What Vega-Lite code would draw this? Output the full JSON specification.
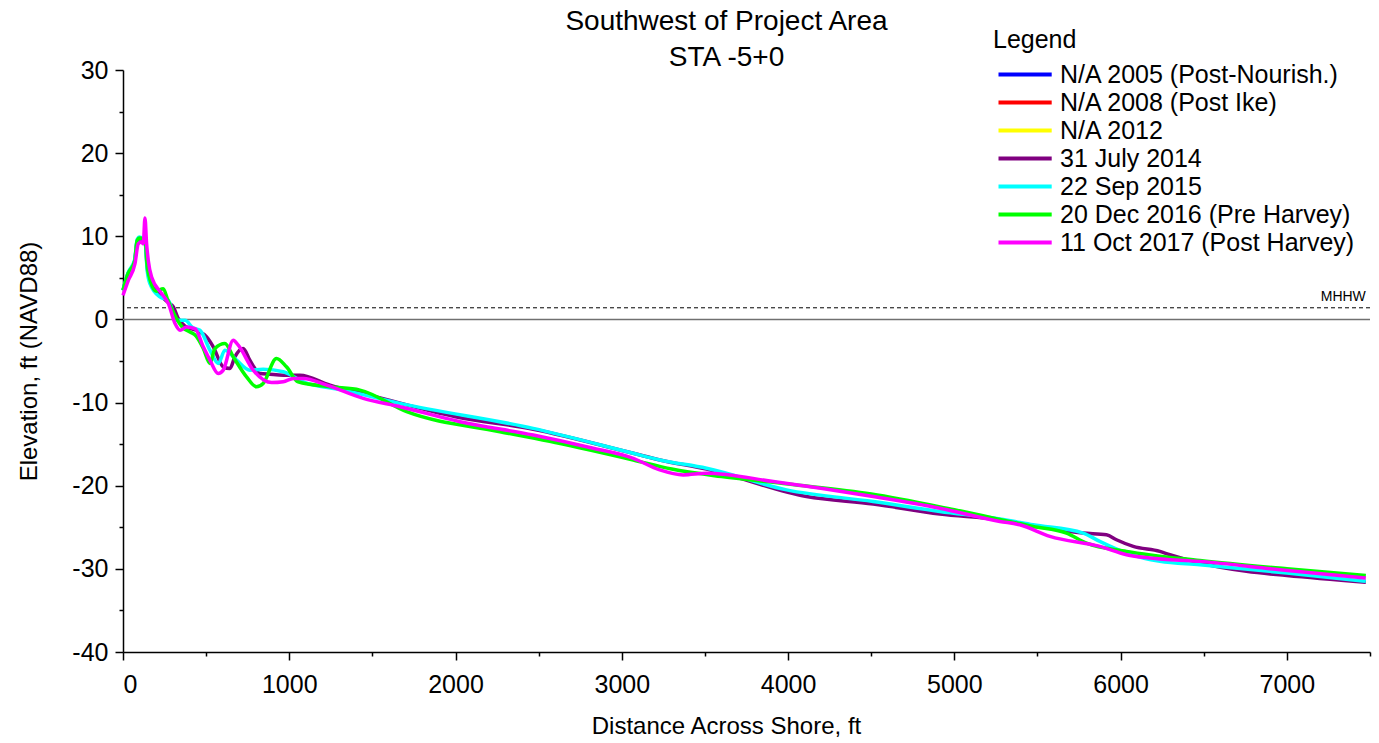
{
  "$schema": "https://vega.github.io/schema/vega-lite/v6.json",
  "width": 1247,
  "height": 582,
  "autosize": {"type": "none"},
  "padding": {"left": 123, "top": 70, "right": 9, "bottom": 91},
  "background": "white",
  "config": {
    "font": "Liberation Sans",
    "view": {"stroke": null},
    "axis": {"grid": false, "domainColor": "black", "tickColor": "black", "labelColor": "black", "titleColor": "black", "labelFontSize": 25, "titleFontSize": 24, "titleFontWeight": "normal", "domainWidth": 1.5, "tickWidth": 1.5, "labelOverlap": false}
  },
  "title": {"text": ["Southwest of Project Area", "STA -5+0"], "fontSize": 28, "fontWeight": "normal", "color": "black", "anchor": "middle", "frame": "group", "dx": -20, "offset": -44, "lineHeight": 36},
  "datasets": {
    "profiles": [
      {"s":"31 July 2014","x":0,"y":3.5},{"s":"31 July 2014","x":30,"y":5.5},{"s":"31 July 2014","x":70,"y":7.0},{"s":"31 July 2014","x":85,"y":9.4},{"s":"31 July 2014","x":100,"y":9.7},{"s":"31 July 2014","x":120,"y":9.5},{"s":"31 July 2014","x":135,"y":9.0},{"s":"31 July 2014","x":145,"y":6.3},{"s":"31 July 2014","x":165,"y":4.5},{"s":"31 July 2014","x":222,"y":3.0},{"s":"31 July 2014","x":273,"y":2.0},{"s":"31 July 2014","x":303,"y":1.5},{"s":"31 July 2014","x":330,"y":0.2},{"s":"31 July 2014","x":373,"y":-0.8},{"s":"31 July 2014","x":440,"y":-1.3},{"s":"31 July 2014","x":503,"y":-2.1},{"s":"31 July 2014","x":543,"y":-3.3},{"s":"31 July 2014","x":603,"y":-5.7},{"s":"31 July 2014","x":643,"y":-5.9},{"s":"31 July 2014","x":673,"y":-4.5},{"s":"31 July 2014","x":723,"y":-3.5},{"s":"31 July 2014","x":763,"y":-4.9},{"s":"31 July 2014","x":823,"y":-6.5},{"s":"31 July 2014","x":884,"y":-6.6},{"s":"31 July 2014","x":964,"y":-6.7},{"s":"31 July 2014","x":1064,"y":-6.7},{"s":"31 July 2014","x":1245,"y":-7.9},{"s":"31 July 2014","x":1485,"y":-9.1},{"s":"31 July 2014","x":2000,"y":-11.7},{"s":"31 July 2014","x":2467,"y":-13.2},{"s":"31 July 2014","x":3069,"y":-16.1},{"s":"31 July 2014","x":3229,"y":-16.9},{"s":"31 July 2014","x":3510,"y":-18.0},{"s":"31 July 2014","x":4111,"y":-21.3},{"s":"31 July 2014","x":4512,"y":-22.2},{"s":"31 July 2014","x":4913,"y":-23.4},{"s":"31 July 2014","x":5274,"y":-24.1},{"s":"31 July 2014","x":5474,"y":-24.8},{"s":"31 July 2014","x":5775,"y":-25.7},{"s":"31 July 2014","x":5915,"y":-25.9},{"s":"31 July 2014","x":5975,"y":-26.5},{"s":"31 July 2014","x":6076,"y":-27.3},{"s":"31 July 2014","x":6236,"y":-27.9},{"s":"31 July 2014","x":6296,"y":-28.3},{"s":"31 July 2014","x":6477,"y":-29.3},{"s":"31 July 2014","x":6757,"y":-30.3},{"s":"31 July 2014","x":7000,"y":-30.8},{"s":"31 July 2014","x":7475,"y":-31.6},

      {"s":"22 Sep 2015","x":0,"y":3.5},{"s":"22 Sep 2015","x":30,"y":5.6},{"s":"22 Sep 2015","x":70,"y":7.2},{"s":"22 Sep 2015","x":85,"y":9.6},{"s":"22 Sep 2015","x":100,"y":9.9},{"s":"22 Sep 2015","x":120,"y":9.6},{"s":"22 Sep 2015","x":135,"y":9.0},{"s":"22 Sep 2015","x":145,"y":6.0},{"s":"22 Sep 2015","x":162,"y":4.3},{"s":"22 Sep 2015","x":222,"y":2.7},{"s":"22 Sep 2015","x":273,"y":2.3},{"s":"22 Sep 2015","x":322,"y":-0.1},{"s":"22 Sep 2015","x":373,"y":-0.1},{"s":"22 Sep 2015","x":420,"y":-1.0},{"s":"22 Sep 2015","x":463,"y":-1.3},{"s":"22 Sep 2015","x":523,"y":-3.7},{"s":"22 Sep 2015","x":573,"y":-5.3},{"s":"22 Sep 2015","x":613,"y":-3.7},{"s":"22 Sep 2015","x":683,"y":-4.9},{"s":"22 Sep 2015","x":763,"y":-6.1},{"s":"22 Sep 2015","x":843,"y":-6.0},{"s":"22 Sep 2015","x":964,"y":-6.3},{"s":"22 Sep 2015","x":1084,"y":-7.5},{"s":"22 Sep 2015","x":1325,"y":-8.5},{"s":"22 Sep 2015","x":1666,"y":-10.1},{"s":"22 Sep 2015","x":2467,"y":-13.1},{"s":"22 Sep 2015","x":3069,"y":-16.1},{"s":"22 Sep 2015","x":3229,"y":-16.9},{"s":"22 Sep 2015","x":3510,"y":-17.9},{"s":"22 Sep 2015","x":3991,"y":-20.5},{"s":"22 Sep 2015","x":4512,"y":-21.9},{"s":"22 Sep 2015","x":4913,"y":-23.1},{"s":"22 Sep 2015","x":5274,"y":-24.0},{"s":"22 Sep 2015","x":5474,"y":-24.7},{"s":"22 Sep 2015","x":5775,"y":-25.7},{"s":"22 Sep 2015","x":5875,"y":-26.7},{"s":"22 Sep 2015","x":6036,"y":-28.1},{"s":"22 Sep 2015","x":6236,"y":-29.1},{"s":"22 Sep 2015","x":6477,"y":-29.5},{"s":"22 Sep 2015","x":7000,"y":-30.5},{"s":"22 Sep 2015","x":7475,"y":-31.5},

      {"s":"20 Dec 2016 (Pre Harvey)","x":0,"y":3.5},{"s":"20 Dec 2016 (Pre Harvey)","x":30,"y":5.5},{"s":"20 Dec 2016 (Pre Harvey)","x":70,"y":7.0},{"s":"20 Dec 2016 (Pre Harvey)","x":85,"y":9.5},{"s":"20 Dec 2016 (Pre Harvey)","x":100,"y":9.8},{"s":"20 Dec 2016 (Pre Harvey)","x":120,"y":9.7},{"s":"20 Dec 2016 (Pre Harvey)","x":135,"y":9.3},{"s":"20 Dec 2016 (Pre Harvey)","x":145,"y":6.5},{"s":"20 Dec 2016 (Pre Harvey)","x":165,"y":4.6},{"s":"20 Dec 2016 (Pre Harvey)","x":200,"y":3.4},{"s":"20 Dec 2016 (Pre Harvey)","x":242,"y":3.7},{"s":"20 Dec 2016 (Pre Harvey)","x":270,"y":2.3},{"s":"20 Dec 2016 (Pre Harvey)","x":322,"y":0.1},{"s":"20 Dec 2016 (Pre Harvey)","x":360,"y":-1.0},{"s":"20 Dec 2016 (Pre Harvey)","x":403,"y":-1.5},{"s":"20 Dec 2016 (Pre Harvey)","x":440,"y":-2.0},{"s":"20 Dec 2016 (Pre Harvey)","x":483,"y":-3.5},{"s":"20 Dec 2016 (Pre Harvey)","x":523,"y":-5.3},{"s":"20 Dec 2016 (Pre Harvey)","x":553,"y":-3.5},{"s":"20 Dec 2016 (Pre Harvey)","x":613,"y":-2.9},{"s":"20 Dec 2016 (Pre Harvey)","x":663,"y":-4.5},{"s":"20 Dec 2016 (Pre Harvey)","x":743,"y":-6.9},{"s":"20 Dec 2016 (Pre Harvey)","x":803,"y":-8.1},{"s":"20 Dec 2016 (Pre Harvey)","x":843,"y":-7.7},{"s":"20 Dec 2016 (Pre Harvey)","x":923,"y":-4.7},{"s":"20 Dec 2016 (Pre Harvey)","x":983,"y":-5.7},{"s":"20 Dec 2016 (Pre Harvey)","x":1053,"y":-7.5},{"s":"20 Dec 2016 (Pre Harvey)","x":1245,"y":-8.1},{"s":"20 Dec 2016 (Pre Harvey)","x":1425,"y":-8.5},{"s":"20 Dec 2016 (Pre Harvey)","x":1706,"y":-11.1},{"s":"20 Dec 2016 (Pre Harvey)","x":2267,"y":-13.5},{"s":"20 Dec 2016 (Pre Harvey)","x":2600,"y":-14.8},{"s":"20 Dec 2016 (Pre Harvey)","x":3069,"y":-16.9},{"s":"20 Dec 2016 (Pre Harvey)","x":3300,"y":-18.0},{"s":"20 Dec 2016 (Pre Harvey)","x":3600,"y":-18.9},{"s":"20 Dec 2016 (Pre Harvey)","x":4000,"y":-19.8},{"s":"20 Dec 2016 (Pre Harvey)","x":4500,"y":-21.0},{"s":"20 Dec 2016 (Pre Harvey)","x":5000,"y":-22.9},{"s":"20 Dec 2016 (Pre Harvey)","x":5474,"y":-24.9},{"s":"20 Dec 2016 (Pre Harvey)","x":5675,"y":-25.7},{"s":"20 Dec 2016 (Pre Harvey)","x":5795,"y":-26.9},{"s":"20 Dec 2016 (Pre Harvey)","x":6036,"y":-27.9},{"s":"20 Dec 2016 (Pre Harvey)","x":6477,"y":-29.0},{"s":"20 Dec 2016 (Pre Harvey)","x":7000,"y":-30.0},{"s":"20 Dec 2016 (Pre Harvey)","x":7475,"y":-30.8},

      {"s":"11 Oct 2017 (Post Harvey)","x":0,"y":2.9},{"s":"11 Oct 2017 (Post Harvey)","x":32,"y":4.7},{"s":"11 Oct 2017 (Post Harvey)","x":72,"y":6.7},{"s":"11 Oct 2017 (Post Harvey)","x":92,"y":9.1},{"s":"11 Oct 2017 (Post Harvey)","x":112,"y":9.3},{"s":"11 Oct 2017 (Post Harvey)","x":122,"y":9.1},{"s":"11 Oct 2017 (Post Harvey)","x":132,"y":12.2},{"s":"11 Oct 2017 (Post Harvey)","x":142,"y":9.1},{"s":"11 Oct 2017 (Post Harvey)","x":152,"y":7.1},{"s":"11 Oct 2017 (Post Harvey)","x":172,"y":5.1},{"s":"11 Oct 2017 (Post Harvey)","x":233,"y":3.1},{"s":"11 Oct 2017 (Post Harvey)","x":273,"y":1.9},{"s":"11 Oct 2017 (Post Harvey)","x":313,"y":-0.5},{"s":"11 Oct 2017 (Post Harvey)","x":343,"y":-1.3},{"s":"11 Oct 2017 (Post Harvey)","x":383,"y":-0.9},{"s":"11 Oct 2017 (Post Harvey)","x":433,"y":-1.1},{"s":"11 Oct 2017 (Post Harvey)","x":483,"y":-3.3},{"s":"11 Oct 2017 (Post Harvey)","x":523,"y":-4.9},{"s":"11 Oct 2017 (Post Harvey)","x":573,"y":-6.5},{"s":"11 Oct 2017 (Post Harvey)","x":603,"y":-6.1},{"s":"11 Oct 2017 (Post Harvey)","x":663,"y":-2.5},{"s":"11 Oct 2017 (Post Harvey)","x":693,"y":-3.1},{"s":"11 Oct 2017 (Post Harvey)","x":783,"y":-6.1},{"s":"11 Oct 2017 (Post Harvey)","x":894,"y":-7.6},{"s":"11 Oct 2017 (Post Harvey)","x":964,"y":-7.5},{"s":"11 Oct 2017 (Post Harvey)","x":1024,"y":-7.1},{"s":"11 Oct 2017 (Post Harvey)","x":1084,"y":-7.1},{"s":"11 Oct 2017 (Post Harvey)","x":1225,"y":-7.9},{"s":"11 Oct 2017 (Post Harvey)","x":1445,"y":-9.5},{"s":"11 Oct 2017 (Post Harvey)","x":1666,"y":-10.5},{"s":"11 Oct 2017 (Post Harvey)","x":2027,"y":-12.3},{"s":"11 Oct 2017 (Post Harvey)","x":2467,"y":-13.9},{"s":"11 Oct 2017 (Post Harvey)","x":2808,"y":-15.4},{"s":"11 Oct 2017 (Post Harvey)","x":3069,"y":-16.7},{"s":"11 Oct 2017 (Post Harvey)","x":3228,"y":-18.1},{"s":"11 Oct 2017 (Post Harvey)","x":3369,"y":-18.7},{"s":"11 Oct 2017 (Post Harvey)","x":3510,"y":-18.5},{"s":"11 Oct 2017 (Post Harvey)","x":3911,"y":-19.5},{"s":"11 Oct 2017 (Post Harvey)","x":4512,"y":-21.3},{"s":"11 Oct 2017 (Post Harvey)","x":4913,"y":-22.7},{"s":"11 Oct 2017 (Post Harvey)","x":5274,"y":-24.3},{"s":"11 Oct 2017 (Post Harvey)","x":5394,"y":-24.7},{"s":"11 Oct 2017 (Post Harvey)","x":5575,"y":-26.1},{"s":"11 Oct 2017 (Post Harvey)","x":5875,"y":-27.3},{"s":"11 Oct 2017 (Post Harvey)","x":6036,"y":-28.3},{"s":"11 Oct 2017 (Post Harvey)","x":6176,"y":-28.7},{"s":"11 Oct 2017 (Post Harvey)","x":6477,"y":-29.1},{"s":"11 Oct 2017 (Post Harvey)","x":6958,"y":-30.1},{"s":"11 Oct 2017 (Post Harvey)","x":7475,"y":-31.1}
    ],
    "refs": [{"y": 0, "kind": "zero"}],
    "mhhw": [{"y": 1.4, "x": 7475, "label": "MHHW"}]
  },
  "layer": [
    {
      "data": {"name": "refs"},
      "mark": {"type": "rule", "color": "#707070", "strokeWidth": 1.5},
      "encoding": {"y": {"field": "y", "type": "quantitative"}}
    },
    {
      "data": {"name": "mhhw"},
      "mark": {"type": "rule", "color": "black", "strokeWidth": 1, "strokeDash": [4, 3]},
      "encoding": {"y": {"field": "y", "type": "quantitative"}}
    },
    {
      "data": {"name": "mhhw"},
      "mark": {"type": "text", "align": "right", "baseline": "bottom", "dy": -4, "fontSize": 14, "color": "black"},
      "encoding": {
        "x": {"field": "x", "type": "quantitative"},
        "y": {"field": "y", "type": "quantitative"},
        "text": {"field": "label"}
      }
    },
    {
      "data": {"name": "profiles"},
      "mark": {"type": "line", "strokeWidth": 3.5, "interpolate": "monotone"},
      "encoding": {
        "x": {"field": "x", "type": "quantitative", "title": "Distance Across Shore, ft",
          "scale": {"domain": [0, 7500], "nice": false},
          "axis": {"values": [0,500,1000,1500,2000,2500,3000,3500,4000,4500,5000,5500,6000,6500,7000,7500],
            "labelExpr": "datum.value % 1000 === 0 ? '' + datum.value : ''",
            "tickSize": {"expr": "datum.value % 1000 === 0 ? 8 : 4"},
            "labelPadding": 12, "titlePadding": 17, "titleX": 603, "titleAlign": "center"}},
        "y": {"field": "y", "type": "quantitative", "title": "Elevation, ft (NAVD88)",
          "scale": {"domain": [-40, 30], "nice": false},
          "axis": {"values": [-40,-35,-30,-25,-20,-15,-10,-5,0,5,10,15,20,25,30],
            "labelExpr": "datum.value % 10 === 0 ? '' + datum.value : ''",
            "tickSize": {"expr": "datum.value % 10 === 0 ? 8 : 4"},
            "labelPadding": 7, "titlePadding": 30}},
        "color": {"field": "s", "type": "nominal",
          "scale": {
            "domain": ["\u00a0N/A 2005 (Post-Nourish.)", "\u00a0N/A 2008 (Post Ike)", "\u00a0N/A 2012", "31 July 2014", "22 Sep 2015", "20 Dec 2016 (Pre Harvey)", "11 Oct 2017 (Post Harvey)"],
            "range": ["#0000FF", "#FF0000", "#FFFF00", "#800080", "#00FFFF", "#00FF00", "#FF00FF"]},
          "legend": {"title": "Legend", "orient": "none", "legendX": 870, "legendY": -42,
            "titleFontSize": 25, "titleFontWeight": "normal", "titleColor": "black", "titlePadding": 9,
            "labelFontSize": 25, "labelColor": "black", "labelLimit": 500,
            "symbolType": "M-1,0H6.6", "symbolSize": 196, "symbolStrokeWidth": 4, "symbolFillColor": "transparent",
            "labelOffset": 42, "rowPadding": 2, "padding": 0}}
      }
    }
  ]
}
